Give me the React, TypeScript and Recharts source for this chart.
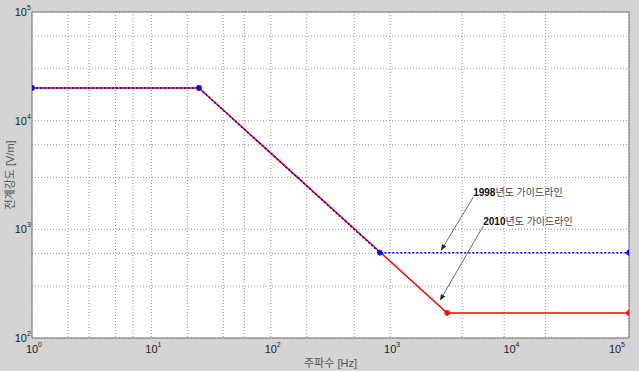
import React from 'react';
import { LineChart, Line, XAxis, YAxis, CartesianGrid, ReferenceLine, Label } from 'recharts';

// Data (frequency Hz -> field strength V/m)
const freq1998 = [1, 25, 820, 100000];
const field1998 = [20000, 20000, 610, 610];
const freq2010 = [1, 25, 3000, 100000];
const field2010 = [20000, 20000, 170, 170];

const xTicks = [1, 10, 100, 1000, 10000, 100000];
const yTicks = [100, 1000, 10000, 100000];
const minorSteps = [1, 2, 3, 4, 5, 6, 7, 8, 9];

const label1998 = { year: '1998', text: '년도 가이드라인', from: { x: 4955, y: 1972 }, to: { x: 2667, y: 640 } };
const label2010 = { year: '2010', text: '년도 가이드라인', from: { x: 6015, y: 1074 }, to: { x: 2617, y: 222 } };

const data1998 = freq1998.map((f, i) => ({ f, v: field1998[i] }));
const data2010 = freq2010.map((f, i) => ({ f, v: field2010[i] }));

const gridOf = (ticks: number[]) => {
  const out: number[] = [];
  for (let i = 0; i < ticks.length - 1; i++) minorSteps.forEach((m) => out.push(ticks[i] * m));
  out.push(ticks[ticks.length - 1]);
  return out;
};
const gridX = gridOf(xTicks);
const gridY = gridOf(yTicks);

const FONT = '"Liberation Sans", Arial, "Noto Sans CJK KR", sans-serif';

const XTick = (props: any) => {
  const { x, y, payload } = props;
  const e = Math.round(Math.log10(payload.value));
  return (
    <g>
      <text x={x} y={y + 7} textAnchor="middle" fontSize={11} fill="#222" fontFamily={FONT}>10</text>
      <text x={x + 6} y={y + 1} textAnchor="start" fontSize={7} fill="#222" fontFamily={FONT}>{e}</text>
    </g>
  );
};

const YTick = (props: any) => {
  const { x, y, payload } = props;
  const e = Math.round(Math.log10(payload.value));
  return (
    <g>
      <text x={x + 3} y={y + 4} textAnchor="end" fontSize={11} fill="#222" fontFamily={FONT}>10</text>
      <text x={x + 3} y={y - 2} textAnchor="start" fontSize={7} fill="#222" fontFamily={FONT}>{e}</text>
    </g>
  );
};

const Star = (color: string) => (props: any) => {
  const { cx, cy, index } = props;
  if (cx == null || cy == null) return <g key={index} />;
  const s = 3;
  return (
    <g key={index} stroke={color} strokeWidth={1.5}>
      <line x1={cx - s} y1={cy} x2={cx + s} y2={cy} />
      <line x1={cx} y1={cy - s} x2={cx} y2={cy + s} />
      <line x1={cx - s * 0.7} y1={cy - s * 0.7} x2={cx + s * 0.7} y2={cy + s * 0.7} />
      <line x1={cx - s * 0.7} y1={cy + s * 0.7} x2={cx + s * 0.7} y2={cy - s * 0.7} />
    </g>
  );
};

const arrowShape = (lab: { year: string; text: string }) => (props: any) => {
  const { x1, y1, x2, y2 } = props;
  const ang = Math.atan2(y2 - y1, x2 - x1);
  const L = 6, W = 2.5;
  const bx = x2 - L * Math.cos(ang), by = y2 - L * Math.sin(ang);
  const px = -Math.sin(ang) * W, py = Math.cos(ang) * W;
  return (
    <g>
      <line x1={x1} y1={y1} x2={x2} y2={y2} stroke="#444" strokeWidth={0.8} />
      <polygon points={`${x2},${y2} ${bx + px},${by + py} ${bx - px},${by - py}`} fill="#222" />
      <text x={x1} y={y1 - 1} fontSize={10} fontFamily={FONT} fill="#444">
        <tspan fontWeight="bold" fill="#111">{lab.year}</tspan>
        <tspan>{lab.text}</tspan>
      </text>
    </g>
  );
};

export default function App() {
  return (
    <div style={{ position: 'absolute', left: 0, top: 0, width: 639, height: 371, background: '#d4d4d4' }}>
      <LineChart width={639} height={371} margin={{ top: 12, right: 10, bottom: 0, left: 0 }}>
        <CartesianGrid
          fill="#ffffff"
          stroke="#9a9a9a"
          strokeDasharray="1 2"
          horizontalValues={gridY}
          verticalValues={gridX}
        />
        <XAxis
          dataKey="f"
          type="number"
          scale="log"
          domain={[1, 100000]}
          ticks={xTicks}
          allowDataOverflow
          height={33}
          tick={<XTick />}
          tickLine={false}
          axisLine={{ stroke: '#777' }}
        >
          <Label value="주파수 [Hz]" position="insideBottom" offset={4} fontSize={11} fill="#555" fontFamily={FONT} />
        </XAxis>
        <YAxis
          dataKey="v"
          type="number"
          scale="log"
          domain={[100, 100000]}
          ticks={yTicks}
          allowDataOverflow
          width={32}
          tick={<YTick />}
          tickLine={false}
          axisLine={{ stroke: '#777' }}
        >
          <Label value="전계강도 [V/m]" angle={-90} position="insideLeft" offset={10} fontSize={11} fill="#555" fontFamily={FONT} style={{ textAnchor: 'middle' }} />
        </YAxis>
        <ReferenceLine x={100000} stroke="#777" strokeWidth={1} />
        <ReferenceLine y={100000} stroke="#777" strokeWidth={1} />
        <Line
          data={data2010}
          dataKey="v"
          stroke="#ff0000"
          strokeWidth={1.5}
          dot={Star('#ff0000')}
          isAnimationActive={false}
        />
        <Line
          data={data1998}
          dataKey="v"
          stroke="#0000ff"
          strokeWidth={1.5}
          strokeDasharray="2 2"
          dot={Star('#0000ff')}
          isAnimationActive={false}
        />
        <ReferenceLine
          segment={[label1998.from, label1998.to]}
          shape={arrowShape(label1998)}
          ifOverflow="visible"
        />
        <ReferenceLine
          segment={[label2010.from, label2010.to]}
          shape={arrowShape(label2010)}
          ifOverflow="visible"
        />
      </LineChart>
    </div>
  );
}
